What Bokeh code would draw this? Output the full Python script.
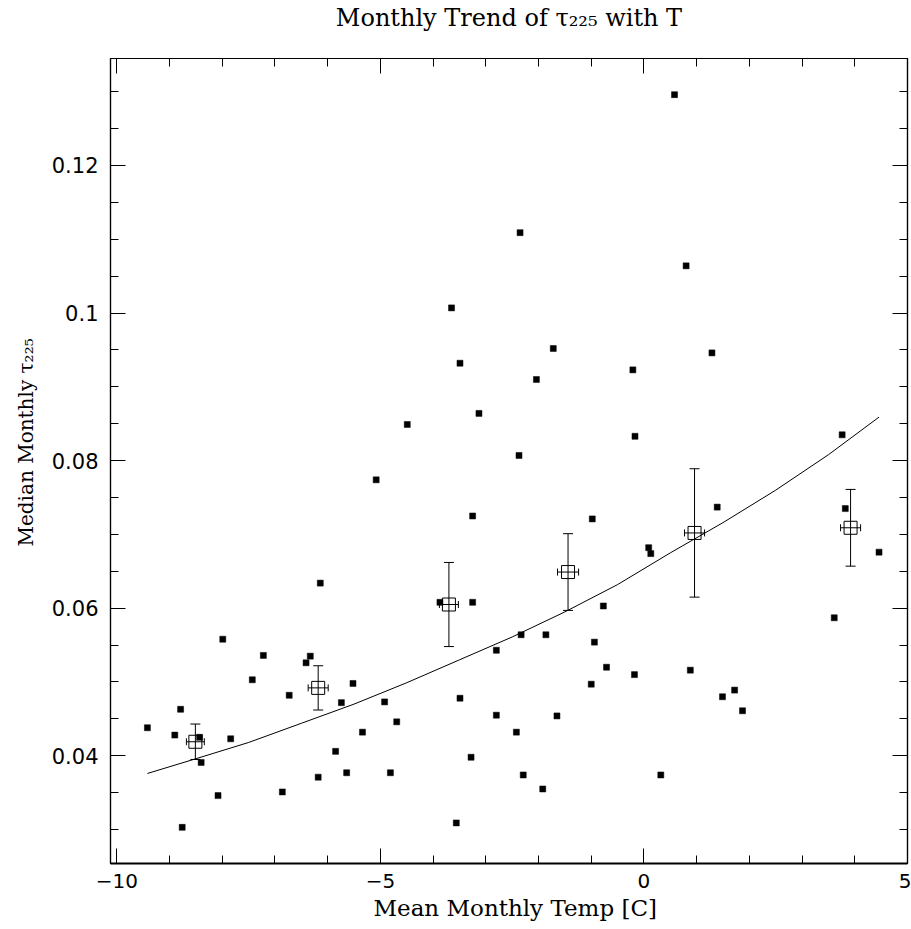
from bokeh.plotting import figure
from bokeh.models import (ColumnDataSource, Whisker, TeeHead, LinearAxis, Range1d,
                          SingleIntervalTicker, PrintfTickFormatter, CustomJSTickFormatter, Title)
from bokeh.embed import file_html
from bokeh.resources import INLINE

# ---------------- data ----------------
temp = [-9.42, -8.90, -8.79, -8.76, -8.43, -8.40, -8.08, -7.99, -7.84, -7.43,
        -7.22, -6.86, -6.73, -6.41, -6.33, -6.18, -6.14, -5.85, -5.74, -5.64,
        -5.52, -5.34, -5.08, -4.92, -4.81, -4.69, -4.49, -3.87, -3.65, -3.56,
        -3.49, -3.49, -3.28, -3.25, -3.25, -3.13, -2.80, -2.80, -2.42, -2.37,
        -2.35, -2.33, -2.29, -2.04, -1.92, -1.86, -1.72, -1.65, -1.00, -0.98,
        -0.94, -0.77, -0.71, -0.21, -0.18, -0.17, 0.09, 0.13, 0.32, 0.58,
        0.80, 0.88, 1.29, 1.39, 1.49, 1.72, 1.87, 3.61, 3.76, 3.82, 4.46]
tau = [0.0438, 0.0428, 0.0463, 0.0303, 0.0425, 0.0391, 0.0346, 0.0558, 0.0423, 0.0503,
       0.0536, 0.0351, 0.0482, 0.0526, 0.0535, 0.0371, 0.0634, 0.0406, 0.0472, 0.0377,
       0.0498, 0.0432, 0.0774, 0.0473, 0.0377, 0.0446, 0.0849, 0.0608, 0.1007, 0.0309,
       0.0478, 0.0932, 0.0398, 0.0725, 0.0608, 0.0864, 0.0543, 0.0455, 0.0432, 0.0807,
       0.1109, 0.0564, 0.0374, 0.0910, 0.0355, 0.0564, 0.0952, 0.0454, 0.0497, 0.0721,
       0.0554, 0.0603, 0.0520, 0.0923, 0.0510, 0.0833, 0.0682, 0.0674, 0.0374, 0.1296,
       0.1064, 0.0516, 0.0946, 0.0737, 0.0480, 0.0489, 0.0461, 0.0587, 0.0835, 0.0735, 0.0676]

bin_temp = [-8.51, -6.18, -3.70, -1.44, 0.96, 3.92]
bin_tau = [0.0419, 0.0492, 0.0605, 0.0649, 0.0702, 0.0709]
bin_tau_err = [0.0024, 0.0030, 0.0057, 0.0052, 0.0087, 0.0052]
bin_temp_err = [0.17, 0.19, 0.18, 0.20, 0.19, 0.19]

fit_temp = [-9.42, -8.5, -7.5, -6.5, -5.5, -4.5, -3.5, -2.5, -1.5, -0.5, 0.5, 1.5, 2.5, 3.5, 4.46]
fit_tau = [0.0376, 0.0396, 0.0418, 0.0444, 0.0470, 0.0499, 0.0530, 0.0561, 0.0595, 0.0632,
           0.0675, 0.0716, 0.0760, 0.0808, 0.0859]

x_tick_labels = {-10: "\u221210", -5: "\u22125", 0: "0", 5: "5"}
title_text = "Monthly Trend of \u03c4\u2082\u2082\u2085 with T"
xlabel_text = "Mean Monthly Temp [C]"
ylabel_text = "Median Monthly \u03c4\u2082\u2082\u2085"

# ---------------- layout ----------------
X0, X1 = -10.12, 5.0
Y0, Y1 = 0.0254, 0.1345
FW, FH = 797, 805
BL, BR, BT, BB = 110, 4, 57, 67

p = figure(frame_width=FW, frame_height=FH, min_border_left=BL, min_border_right=BR,
           min_border_top=BT, min_border_bottom=BB, x_range=Range1d(X0, X1),
           y_range=Range1d(Y0, Y1), output_backend="svg", toolbar_location=None,
           x_axis_type=None, y_axis_type=None)
p.background_fill_color = "white"
p.border_fill_color = "white"
p.grid.visible = False
p.outline_line_color = "black"
p.outline_line_width = 1.2

serif = "DejaVu Serif"
sans = "DejaVu Sans"


def style(ax, label_on, width, font_size="20px"):
    ax.major_tick_in = 15
    ax.major_tick_out = 0
    ax.minor_tick_in = 8
    ax.minor_tick_out = 0
    ax.axis_line_color = "black"
    ax.axis_line_width = width
    ax.major_tick_line_color = "black"
    ax.minor_tick_line_color = "black"
    ax.major_tick_line_width = 1
    ax.minor_tick_line_width = 1
    ax.major_label_text_font = sans
    ax.major_label_text_font_size = font_size
    ax.major_label_text_color = "black"
    if not label_on:
        ax.formatter = CustomJSTickFormatter(code="return ''")
        ax.major_label_standoff = 0
        ax.major_label_text_font_size = "0px"


xb = LinearAxis(ticker=SingleIntervalTicker(interval=5, num_minor_ticks=5))
style(xb, True, 2, "20px")
xb.major_label_overrides = x_tick_labels
xb.major_label_standoff = 10
p.add_layout(xb, "below")

# top axis: ticks only, carries the chart title as its label
xt = LinearAxis(ticker=SingleIntervalTicker(interval=5, num_minor_ticks=5))
style(xt, False, 1.2)
xt.axis_label = title_text
xt.axis_label_standoff = 27
xt.axis_label_text_font = serif
xt.axis_label_text_font_size = "24px"
xt.axis_label_text_font_style = "normal"
xt.axis_label_text_color = "black"
p.add_layout(xt, "above")

yl = LinearAxis(ticker=SingleIntervalTicker(interval=0.02, num_minor_ticks=4),
                formatter=PrintfTickFormatter(format="%g"))
style(yl, True, 1.2, "21px")
yl.major_label_standoff = 12
p.add_layout(yl, "left")

yr = LinearAxis(ticker=SingleIntervalTicker(interval=0.02, num_minor_ticks=4))
style(yr, False, 1.2)
p.add_layout(yr, "right")

# ---------------- glyphs ----------------
pts = ColumnDataSource(dict(x=temp, y=tau))
p.scatter("x", "y", source=pts, marker="square", size=6, fill_color="black",
          line_color="black", line_width=0.5)

p.line(fit_temp, fit_tau, line_color="black", line_width=1)

bins = ColumnDataSource(dict(
    x=bin_temp, y=bin_tau,
    yu=[a + b for a, b in zip(bin_tau, bin_tau_err)],
    yl=[a - b for a, b in zip(bin_tau, bin_tau_err)],
    xu=[a + b for a, b in zip(bin_temp, bin_temp_err)],
    xl=[a - b for a, b in zip(bin_temp, bin_temp_err)],
))
p.add_layout(Whisker(source=bins, base="x", upper="yu", lower="yl", dimension="height",
                     line_color="black", line_width=1,
                     upper_head=TeeHead(size=10, line_color="black", line_width=1),
                     lower_head=TeeHead(size=10, line_color="black", line_width=1)))
p.add_layout(Whisker(source=bins, base="y", upper="xu", lower="xl", dimension="width",
                     line_color="black", line_width=1,
                     upper_head=TeeHead(size=7, line_color="black", line_width=1),
                     lower_head=TeeHead(size=7, line_color="black", line_width=1)))
p.scatter("x", "y", source=bins, marker="square", size=13, fill_color=None,
          line_color="black", line_width=1)

# ---------------- axis titles (as Title panels, for exact placement) ----------------
t_bottom = Title(text=xlabel_text, align="left", offset=263, standoff=5,
                 text_font=serif, text_font_size="23px", text_font_style="normal",
                 text_color="black")
p.add_layout(t_bottom, "below")

t_left = Title(text=ylabel_text, align="left", offset=317, standoff=18,
               vertical_align="top",
               text_font=serif, text_font_size="20px", text_font_style="normal",
               text_color="black")
p.add_layout(t_left, "left")

open("out.html", "w").write(file_html(p, INLINE))
